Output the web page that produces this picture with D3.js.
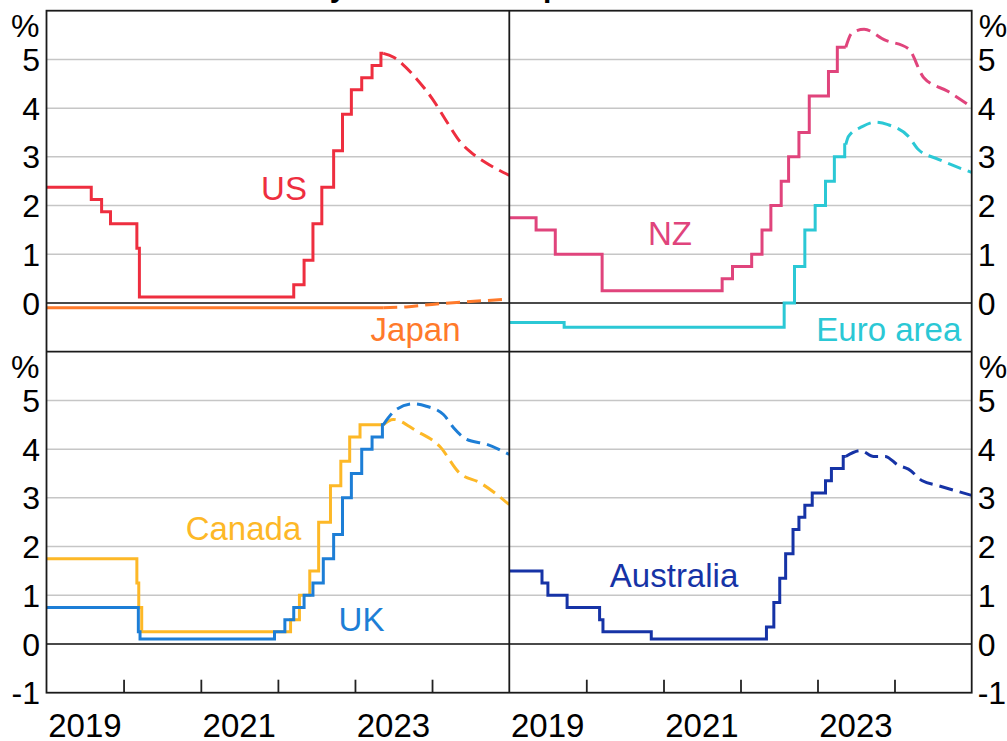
<!DOCTYPE html>
<html>
<head>
<meta charset="utf-8">
<title>Policy Rates and Expectations</title>
<script src="https://d3js.org/d3.v7.min.js"></script>
<style>
  body { margin: 0; background: #fff; }
  svg text { font-family: "Liberation Sans", Arial, sans-serif; }
</style>
</head>
<body>
<svg width="1007" height="741"></svg>
<script>
// ---- data (dates + policy rate, %) ----
var yearLabels = ["2019", "2021", "2023"];
var yTicksTop = [0, 1, 2, 3, 4, 5];
var yTicksBottom = [-1, 0, 1, 2, 3, 4, 5];

var usActual = [["2019-01-01",2.375],["2019-08-01",2.125],["2019-09-19",1.875],["2019-10-31",1.625],["2020-03-04",1.125],["2020-03-16",0.125],["2022-03-17",0.375],["2022-05-05",0.875],["2022-06-16",1.625],["2022-07-28",2.375],["2022-09-22",3.125],["2022-11-03",3.875],["2022-12-15",4.375],["2023-02-02",4.625],["2023-03-23",4.875],["2023-05-04",5.125],["2023-05-15",5.125]];
var usForecast = [["2023-05-15",5.125],["2023-07-01",5.05],["2023-08-15",4.9],["2023-10-20",4.6],["2024-01-01",4.2],["2024-03-14",3.7],["2024-05-15",3.3],["2024-07-01",3.1],["2024-09-12",2.88],["2025-01-01",2.62]];

var japanActual = [["2019-01-01",-0.1],["2023-05-15",-0.1]];
var japanForecast = [["2023-05-15",-0.1],["2023-09-01",-0.08],["2024-01-01",-0.03],["2024-06-01",0.02],["2025-01-01",0.08]];

var nzActual = [["2019-01-01",1.75],["2019-05-08",1.5],["2019-08-07",1.0],["2020-03-16",0.25],["2021-10-06",0.5],["2021-11-24",0.75],["2022-02-23",1.0],["2022-04-13",1.5],["2022-05-25",2.0],["2022-07-13",2.5],["2022-08-17",3.0],["2022-10-05",3.5],["2022-11-23",4.25],["2023-02-22",4.75],["2023-04-05",5.25],["2023-05-15",5.25]];
var nzForecast = [["2023-05-15",5.25],["2023-06-13",5.54],["2023-08-10",5.62],["2023-11-15",5.4],["2024-03-07",5.22],["2024-05-18",4.63],["2024-09-12",4.34],["2025-01-01",4.02]];

var euroActual = [["2019-01-01",-0.4],["2019-09-18",-0.5],["2022-07-27",0.0],["2022-09-14",0.75],["2022-11-02",1.5],["2022-12-21",2.0],["2023-02-08",2.5],["2023-03-22",3.0],["2023-05-10",3.25],["2023-05-15",3.25]];
var euroForecast = [["2023-05-15",3.25],["2023-05-28",3.42],["2023-08-01",3.62],["2023-10-01",3.71],["2023-12-01",3.66],["2024-03-07",3.42],["2024-04-23",3.15],["2024-07-27",2.95],["2025-01-01",2.68]];

var canadaActual = [["2019-01-01",1.75],["2020-03-04",1.25],["2020-03-13",0.75],["2020-03-27",0.25],["2022-03-02",0.5],["2022-04-13",1.0],["2022-06-01",1.5],["2022-07-13",2.5],["2022-09-07",3.25],["2022-10-26",3.75],["2022-12-07",4.25],["2023-01-25",4.5],["2023-05-15",4.5]];
var canadaForecast = [["2023-05-15",4.5],["2023-07-01",4.61],["2023-10-20",4.37],["2024-02-06",4.06],["2024-05-10",3.51],["2024-08-15",3.31],["2025-01-01",2.86]];

var ukActual = [["2019-01-01",0.75],["2020-03-11",0.25],["2020-03-19",0.1],["2021-12-16",0.25],["2022-02-03",0.5],["2022-03-17",0.75],["2022-05-05",1.0],["2022-06-16",1.25],["2022-08-04",1.75],["2022-09-22",2.25],["2022-11-03",3.0],["2022-12-15",3.5],["2023-02-02",4.0],["2023-03-23",4.25],["2023-05-11",4.5],["2023-05-15",4.5]];
var ukForecast = [["2023-05-15",4.5],["2023-07-15",4.81],["2023-10-04",4.93],["2023-12-05",4.88],["2024-02-24",4.71],["2024-04-12",4.44],["2024-06-13",4.2],["2024-09-16",4.1],["2025-01-01",3.89]];

var ausActual = [["2019-01-01",1.5],["2019-06-05",1.25],["2019-07-03",1.0],["2019-10-02",0.75],["2020-03-04",0.5],["2020-03-20",0.25],["2020-11-04",0.1],["2022-05-04",0.35],["2022-06-08",0.85],["2022-07-06",1.35],["2022-08-03",1.85],["2022-09-07",2.35],["2022-10-05",2.6],["2022-11-02",2.85],["2022-12-07",3.1],["2023-02-08",3.35],["2023-03-08",3.6],["2023-05-03",3.85],["2023-05-15",3.85]];
var ausForecast = [["2023-05-15",3.85],["2023-07-24",3.97],["2023-09-24",3.85],["2023-11-17",3.85],["2024-01-19",3.67],["2024-03-07",3.59],["2024-05-12",3.35],["2024-07-27",3.25],["2025-01-01",3.05]];

// ---- layout ----
var svg = d3.select("svg");
var parse = d3.timeParse("%Y-%m-%d");
var colX = [[46.5, 509.3], [509.3, 971.7]];
var rowY = [[10.7, 351.7], [351.7, 692.7]];
var tickFont = 32, labelFont = 33;

// cut-off title at the very top
svg.append("text")
    .attr("x", 258).attr("y", -3)
    .attr("font-size", 30).attr("font-weight", "bold")
    .attr("fill", "#000")
    .text("Policy Rates and Expectations");

var panels = [
  { col: 0, row: 0, series: [
      { name: "US", color: "#EE2E3F", actual: usActual, forecast: usForecast, label: ["2022-01-30", 2.11] },
      { name: "Japan", color: "#FF7A2B", actual: japanActual, forecast: japanForecast, label: ["2023-10-15", -0.78] } ] },
  { col: 1, row: 0, series: [
      { name: "NZ", color: "#E0447C", actual: nzActual, forecast: nzForecast, label: ["2021-02-01", 1.19] },
      { name: "Euro area", color: "#2BC8D5", actual: euroActual, forecast: euroForecast, label: ["2023-12-05", -0.78] } ] },
  { col: 0, row: 1, series: [
      { name: "Canada", color: "#FDB827", actual: canadaActual, forecast: canadaForecast, label: ["2021-07-22", 2.14] },
      { name: "UK", color: "#1D7ED6", actual: ukActual, forecast: ukForecast, label: ["2023-02-01", 0.26] } ] },
  { col: 1, row: 1, series: [
      { name: "Australia", color: "#1633A6", actual: ausActual, forecast: ausForecast, label: ["2021-02-20", 1.16] } ] }
];

panels.forEach(function(p, i) {
  var x = d3.scaleTime()
      .domain([parse("2019-01-01"), parse("2025-01-01")])
      .range(colX[p.col]);
  var y = d3.scaleLinear().domain([-1, 6]).range([rowY[p.row][1], rowY[p.row][0]]);
  var g = svg.append("g");

  g.append("clipPath").attr("id", "clip" + i)
    .append("rect")
      .attr("x", colX[p.col][0]).attr("y", rowY[p.row][0])
      .attr("width", colX[p.col][1] - colX[p.col][0])
      .attr("height", rowY[p.row][1] - rowY[p.row][0]);

  // grid lines
  g.selectAll(".grid").data([1, 2, 3, 4, 5]).enter().append("line")
      .attr("x1", colX[p.col][0]).attr("x2", colX[p.col][1])
      .attr("y1", function(d) { return y(d); }).attr("y2", function(d) { return y(d); })
      .attr("stroke", "#c6c6c6").attr("stroke-width", 1.5);
  g.append("line")
      .attr("x1", colX[p.col][0]).attr("x2", colX[p.col][1])
      .attr("y1", y(0)).attr("y2", y(0))
      .attr("stroke", "#4a4a4a").attr("stroke-width", 1.8);

  // y tick labels
  var ticks = p.row == 0 ? yTicksTop : yTicksBottom;
  var left = p.col == 0;
  g.selectAll(".yt").data(ticks).enter().append("text")
      .attr("x", left ? colX[0][0] - 6.5 : colX[1][1] + 6)
      .attr("y", function(d) { return y(d) + tickFont * 0.36; })
      .attr("text-anchor", left ? "end" : "start")
      .attr("font-size", tickFont).attr("fill", "#000")
      .text(function(d) { return d < 0 ? "-" + Math.abs(d) : d; });
  g.append("text")
      .attr("x", left ? colX[0][0] - 7 : colX[1][1] + 7)
      .attr("y", rowY[p.row][0] + 26)
      .attr("text-anchor", left ? "end" : "start")
      .attr("font-size", tickFont).attr("fill", "#000")
      .text("%");

  // x axis ticks and year labels on the bottom row
  if (p.row == 1) {
    var ax = g.append("g")
        .attr("transform", "translate(0," + rowY[1][1] + ")")
        .call(d3.axisBottom(x)
          .tickValues(["2020", "2021", "2022", "2023", "2024"].map(function(s) { return parse(s + "-01-01"); }))
          .tickSize(-13).tickFormat(""));
    ax.select(".domain").remove();
    ax.selectAll("line").attr("stroke", "#222").attr("stroke-width", 1.8);

    g.selectAll(".xl").data(yearLabels).enter().append("text")
        .attr("x", function(d) { return x(parse(d + "-07-02")); })
        .attr("y", 737)
        .attr("text-anchor", "middle")
        .attr("font-size", 33).attr("fill", "#000")
        .text(function(d) { return d; });
  }

  var stepLine = d3.line()
      .x(function(d) { return x(parse(d[0])); })
      .y(function(d) { return y(d[1]); })
      .curve(d3.curveStepAfter);
  var smoothLine = d3.line()
      .x(function(d) { return x(parse(d[0])); })
      .y(function(d) { return y(d[1]); })
      .curve(d3.curveMonotoneX);

  var lines = g.append("g").attr("clip-path", "url(#clip" + i + ")");
  p.series.forEach(function(s) {
    lines.append("path")
        .attr("d", stepLine(s.actual))
        .attr("fill", "none").attr("stroke", s.color)
        .attr("stroke-width", 3).attr("stroke-linejoin", "miter");
    lines.append("path")
        .attr("d", smoothLine(s.forecast))
        .attr("fill", "none").attr("stroke", s.color)
        .attr("stroke-width", 3).attr("stroke-dasharray", "14,7");
    g.append("text")
        .attr("x", x(parse(s.label[0])))
        .attr("y", y(s.label[1]))
        .attr("text-anchor", "middle")
        .attr("font-size", labelFont).attr("fill", s.color)
        .text(s.name);
  });
});

// panel frames
var frame = svg.append("g").attr("fill", "none").attr("stroke", "#1a1a1a").attr("stroke-width", 1.8);
frame.append("rect")
    .attr("x", colX[0][0]).attr("y", rowY[0][0])
    .attr("width", colX[1][1] - colX[0][0]).attr("height", rowY[1][1] - rowY[0][0]);
frame.append("line").attr("x1", colX[0][1]).attr("x2", colX[0][1]).attr("y1", rowY[0][0]).attr("y2", rowY[1][1]);
frame.append("line").attr("x1", colX[0][0]).attr("x2", colX[1][1]).attr("y1", rowY[0][1]).attr("y2", rowY[0][1]);
</script>
</body>
</html>
